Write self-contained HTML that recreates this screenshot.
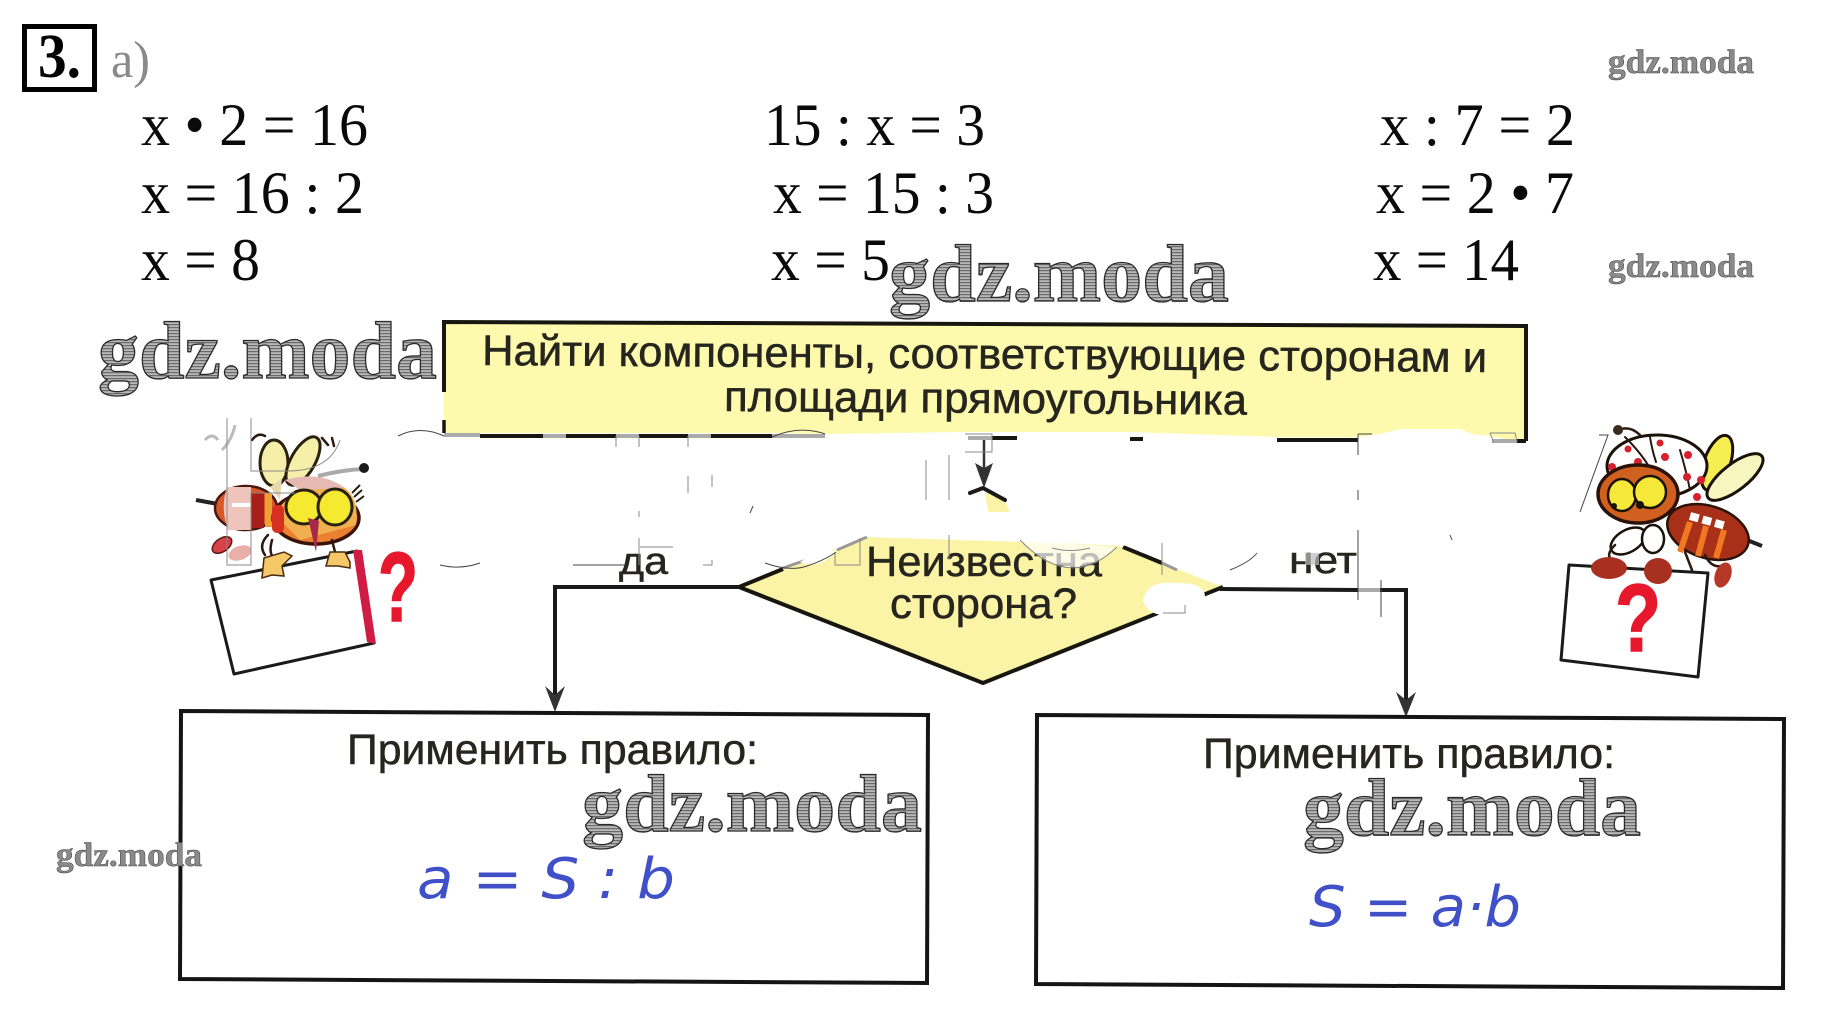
<!DOCTYPE html>
<html lang="ru">
<head>
<meta charset="utf-8">
<title>3. a)</title>
<style>
html,body{margin:0;padding:0;background:#fff;width:1821px;height:1035px;overflow:hidden}
svg{display:block}
.m{font-family:"Liberation Serif",serif;font-size:60px;fill:#0a0a0a}
.s{font-family:"Liberation Sans",sans-serif;font-size:43px;fill:#26261f;stroke:#26261f;stroke-width:.5}
.w{font-family:"Liberation Serif",serif;font-weight:bold;font-size:82px;fill:url(#h);stroke:#2a2a2a;stroke-width:1.3}
.ws{font-family:"Liberation Serif",serif;font-weight:bold;font-size:34px;fill:#8a8a8a;stroke:#444;stroke-width:.5}
.f{font-family:"DejaVu Sans",sans-serif;font-style:oblique;font-size:56px;fill:#3f50c8}
.a{fill:none;stroke:#888;stroke-width:1}
.n{fill:none;stroke:#444;stroke-width:1}
.k{fill:none;stroke:#1a1a1a;stroke-width:3;stroke-linecap:round;stroke-linejoin:round}
.t{fill:none;stroke:#2a1a10;stroke-width:2.5;stroke-linecap:round;stroke-linejoin:round}
</style>
</head>
<body>
<svg xmlns="http://www.w3.org/2000/svg" width="1821" height="1035" viewBox="0 0 1821 1035">
<defs>
<pattern id="h" width="4" height="3" patternUnits="userSpaceOnUse">
<rect width="4" height="3" fill="#b8b8b8"/><rect width="4" height="1.2" fill="#6a6a6a"/>
</pattern>
</defs>
<rect width="1821" height="1035" fill="#fff"/>

<!-- header -->
<rect x="24.5" y="26.5" width="70" height="63" fill="none" stroke="#000" stroke-width="5"/>
<text x="38" y="77" font-family="Liberation Serif,serif" font-weight="bold" font-size="62" textLength="43" lengthAdjust="spacingAndGlyphs">3.</text>
<text x="111" y="77" font-family="Liberation Serif,serif" font-size="52" fill="#8a8a8a" textLength="39" lengthAdjust="spacingAndGlyphs">a)</text>

<!-- equations -->
<text class="m" x="141" y="145" textLength="227" lengthAdjust="spacingAndGlyphs">x • 2 = 16</text>
<text class="m" x="141" y="213" textLength="223" lengthAdjust="spacingAndGlyphs">x = 16 : 2</text>
<text class="m" x="141" y="280" textLength="119" lengthAdjust="spacingAndGlyphs">x = 8</text>
<text class="m" x="764" y="145" textLength="221" lengthAdjust="spacingAndGlyphs">15 : x = 3</text>
<text class="m" x="773" y="213" textLength="221" lengthAdjust="spacingAndGlyphs">x = 15 : 3</text>
<text class="m" x="771" y="280" textLength="119" lengthAdjust="spacingAndGlyphs">x = 5</text>
<text class="m" x="1380" y="145" textLength="195" lengthAdjust="spacingAndGlyphs">x : 7 = 2</text>
<text class="m" x="1376" y="213" textLength="198" lengthAdjust="spacingAndGlyphs">x = 2 • 7</text>
<text class="m" x="1373" y="280" textLength="146" lengthAdjust="spacingAndGlyphs">x = 14</text>

<!-- top box -->
<polygon points="444,322 1526,326 1526,441 444,437" fill="#fdfaae"/>
<!-- white bites along the yellow bottom -->
<path d="M440,436 L460,433 L772,433 L830,434 L960,432 L1130,432 L1277,437 L1358,437 L1380,434 L1400,429 L1460,429 L1472,434 L1490,436 L1515,441 L1530,445 L1530,460 L440,460 Z" fill="#fff"/>
<path d="M444,392 V322 L1526,326 V441" fill="none" stroke="#17170f" stroke-width="4"/>
<path d="M444,420 V433" stroke="#17170f" stroke-width="3.500"/>
<path d="M480,436 H543 M566,436 H616 M639,436 H688 M711,436 H772 M992,438 H1017 M1130,439 H1143 M1277,440 H1358 M1517,441 H1526" stroke="#17170f" stroke-width="4" fill="none"/>
<path d="M444,435 H480 M543,436 H566 M616,436 H639 M688,436 H711 M772,436 H825 M968,438 H992 M1492,441 H1517" stroke="#aaa" stroke-width="4" fill="none"/>
<text class="s" transform="rotate(.4 482 365)" x="482" y="365" textLength="1005" lengthAdjust="spacingAndGlyphs">Найти компоненты, соответствующие сторонам и</text>
<text class="s" transform="rotate(.4 724 411)" x="724" y="411" textLength="523" lengthAdjust="spacingAndGlyphs">площади прямоугольника</text>

<!-- decision -->
<polygon points="739,587 867,537 1117,545 1223,587 983,683" fill="#fbf4a6"/>
<path d="M783,569 L739,587 L983,683 L1223,587" fill="none" stroke="#17170f" stroke-width="4" stroke-linejoin="round"/>
<path d="M783,568 L815,557 M837,550 L867,537 M1162,563 L1177,570" stroke="#999" stroke-width="3" fill="none"/>
<path d="M1123,547 L1162,563" stroke="#17170f" stroke-width="4"/>
<text class="s" x="866" y="576" textLength="236" lengthAdjust="spacingAndGlyphs">Неизвестна</text>
<text class="s" x="890" y="618" textLength="187" lengthAdjust="spacingAndGlyphs">сторона?</text>

<!-- white erasure -->
<path d="M640,460 H1500 V520 L1190,530 L1123,546 L1020,541 L880,534 L867,536 L800,548 L660,548 Z" fill="#fff"/>
<path d="M1020,540 Q1070,590 1117,547 Z" fill="#fff" opacity=".7"/>
<path d="M1020,540 Q1070,592 1117,547 M1052,548 Q1070,553 1090,548" class="a"/>
<path d="M800,562 Q820,570 837,551 L815,552 Z" fill="#fff"/>
<path d="M1143,600 Q1148,580 1175,583 Q1205,582 1205,597 Q1200,615 1175,615 Q1148,618 1143,600 Z" fill="#fff"/>
<polygon points="985,492 1005,501 1010,512 988,512" fill="#fbf4a6"/>
<path d="M970,493 L983,488 L1005,500" class="k" style="stroke-width:4"/>

<!-- arrow -->
<path d="M984,440 V470" stroke="#333" stroke-width="2.500"/>
<polygon points="975,463 984,468 993,463 984,488" fill="#333"/>

<!-- connectors -->
<path d="M739,587 H555 V695" fill="none" stroke="#1a1a1a" stroke-width="4"/>
<polygon points="545,686 555,695 565,686 555,712" fill="#333"/>
<path d="M1220,589 L1358,590 M1380,590 H1406 V700" fill="none" stroke="#1a1a1a" stroke-width="4"/>
<path d="M1358,590 H1380" stroke="#aaa" stroke-width="4"/>
<polygon points="1396,692 1406,700 1416,692 1406,717" fill="#333"/>
<text class="s" x="619" y="574" style="font-size:38px" textLength="49" lengthAdjust="spacingAndGlyphs">да</text>
<text class="s" x="1289" y="573" style="font-size:38px" textLength="68" lengthAdjust="spacingAndGlyphs">нет</text>
<rect x="1305" y="553" width="14" height="12" fill="#bbb" opacity=".7"/>

<!-- bottom boxes -->
<polygon points="181,711 928,715 927,983 180,979" fill="#fff" stroke="#151515" stroke-width="4"/>
<text class="s" x="347" y="764" textLength="411" lengthAdjust="spacingAndGlyphs">Применить правило:</text>
<text class="f" x="417" y="898" textLength="258" lengthAdjust="spacingAndGlyphs">a = S : b</text>
<polygon points="1037,715 1784,719 1783,988 1036,984" fill="#fff" stroke="#151515" stroke-width="4"/>
<text class="s" x="1203" y="768" textLength="412" lengthAdjust="spacingAndGlyphs">Применить правило:</text>
<text class="f" x="1309" y="926" textLength="212" lengthAdjust="spacingAndGlyphs">S = a·b</text>

<!-- left bee -->
<g>
<path d="M196,500 L218,504" stroke="#222" stroke-width="4"/>
<ellipse cx="246" cy="508" rx="31" ry="22" fill="#d8582a" stroke="#4a1810" stroke-width="2.500"/>
<path d="M227,487 Q220,508 228,530 H251 V487 Z" fill="#eec4bc"/>
<path d="M232,505 H251" stroke="#fff" stroke-width="4"/>
<rect x="251" y="493" width="13" height="35" fill="#a81e18"/>
<rect x="265" y="493" width="7" height="34" fill="#f0a030"/>
<path d="M222,450 Q232,440 235,425 M205,440 Q212,432 218,440" fill="none" stroke="#bbb" stroke-width="3"/>
<path d="M252,440 Q258,432 265,436 M322,438 L328,445 M332,438 L334,446" class="t"/>
<ellipse cx="274" cy="463" rx="14" ry="23" fill="#f5efaa" stroke="#2a2010" stroke-width="3"/>
<ellipse cx="303" cy="461" rx="12" ry="27" transform="rotate(30 303 461)" fill="#f5efaa" stroke="#2a2010" stroke-width="3"/>
<path d="M270,487 L282,478 L280,500 Z" fill="#e8d8b0"/>
<ellipse cx="316" cy="518" rx="43" ry="26" fill="#ea8030" stroke="#3a1208" stroke-width="3.500"/>
<path d="M275,515 Q285,498 300,488 L340,485 Q360,495 356,525 L300,540 Z" fill="#f0b050"/>
<path d="M285,480 Q320,470 345,488 L300,490 Z" fill="#e6bab2"/>
<rect x="272" y="505" width="12" height="28" fill="#d83020" rx="5"/>
<ellipse cx="304" cy="507" rx="18" ry="17" fill="#f6ea30" stroke="#2a2010" stroke-width="3"/>
<ellipse cx="335" cy="507" rx="17" ry="18" fill="#f6ea30" stroke="#2a2010" stroke-width="3"/>
<polygon points="308,518 319,521 316,552" fill="#a82848"/>
<path d="M352,493 L360,485 M354,497 L362,490 M356,502 L364,496" stroke="#2a2010" stroke-width="2"/>
<path d="M318,476 Q342,470 363,469" stroke="#aaa" stroke-width="4" fill="none"/>
<circle cx="364" cy="468" r="5" fill="#1a1a1a"/>
<ellipse cx="222" cy="545" rx="11" ry="6.500" transform="rotate(-35 222 545)" fill="#d8404a" stroke="#5a1a10" stroke-width="1.500"/>
<ellipse cx="240" cy="553" rx="12" ry="7" transform="rotate(-20 240 553)" fill="#e8b0a8"/>
<path d="M268,535 Q258,545 265,555 M272,540 Q268,555 275,558 M332,540 L335,552" class="t"/>
<polygon points="211,580 355,551 373,643 234,674" fill="#fff"/>
<path d="M211,580 L357,551 M374,643 L234,674 L211,580" class="k"/>
<polygon points="353,550 362,550 376,644 367,642" fill="#d01c44"/>
<path d="M264,558 L284,552 L292,556 L282,566 L284,576 L272,575 L262,578 Z" fill="#f5c868" stroke="#4a2a10" stroke-width="1.500"/>
<path d="M330,552 L345,552 L350,562 L350,568 L338,566 L326,566 Z" fill="#f5c868" stroke="#4a2a10" stroke-width="1.500"/>
<text x="378" y="621" font-family="Liberation Sans,sans-serif" font-weight="bold" font-size="98" fill="#e8182c" stroke="#e8182c" stroke-width="1.500" textLength="40" lengthAdjust="spacingAndGlyphs">?</text>
</g>

<!-- right bee -->
<g>
<path d="M1747,540 L1762,546" stroke="#222" stroke-width="4"/>
<ellipse cx="1708" cy="532" rx="42" ry="26" transform="rotate(18 1708 532)" fill="#a83018" stroke="#2a1208" stroke-width="2.500"/>
<path d="M1690,522 L1680,552 M1706,526 L1698,556 M1724,530 L1716,558" stroke="#f07820" stroke-width="6" fill="none"/>
<path d="M1690,516 L1726,526" stroke="#fff" stroke-width="8" stroke-dasharray="9 4"/>
<ellipse cx="1717" cy="463" rx="13" ry="29" transform="rotate(20 1717 463)" fill="#f6ee50" stroke="#1a1208" stroke-width="3"/>
<ellipse cx="1735" cy="477" rx="13" ry="34" transform="rotate(52 1735 477)" fill="#f8f6c0" stroke="#1a1208" stroke-width="3"/>
<ellipse cx="1657" cy="466" rx="50" ry="31" fill="#fff" stroke="#1a1208" stroke-width="3"/>
<path d="M1625,437 Q1640,452 1648,465 M1650,437 Q1652,450 1656,462 M1680,450 Q1686,470 1690,490" class="t" style="stroke-width:2"/>
<g fill="#d8202c">
<circle cx="1660" cy="443" r="3.500"/><circle cx="1628" cy="449" r="3.500"/><circle cx="1665" cy="457" r="4"/><circle cx="1638" cy="462" r="4"/><circle cx="1688" cy="455" r="4"/><circle cx="1612" cy="467" r="4"/><circle cx="1687" cy="477" r="4"/><circle cx="1701" cy="480" r="4"/><circle cx="1697" cy="497" r="4"/>
</g>
<ellipse cx="1638" cy="494" rx="40" ry="29" fill="#d06020" stroke="#2a1208" stroke-width="3.500"/>
<ellipse cx="1622" cy="495" rx="14" ry="16" fill="#f6e838" stroke="#1a1208" stroke-width="2.500"/>
<ellipse cx="1650" cy="492" rx="16" ry="16" fill="#f6e838" stroke="#1a1208" stroke-width="2.500"/>
<circle cx="1614" cy="506" r="3" fill="#1a1208"/><circle cx="1640" cy="505" r="4" fill="#1a1208"/>
<ellipse cx="1628" cy="541" rx="19" ry="11" transform="rotate(-30 1628 541)" fill="#fff" stroke="#1a1208" stroke-width="2.500"/>
<ellipse cx="1653" cy="539" rx="11" ry="14" fill="#fff" stroke="#1a1208" stroke-width="2.500"/>
<path d="M1615,545 Q1605,555 1612,560 M1685,552 L1692,570 M1705,555 Q1712,570 1725,565" class="t"/>
<path d="M1618,430 Q1630,425 1640,435" class="t"/>
<circle cx="1618" cy="430" r="5" fill="#3a2a20"/>
<polygon points="1569,565 1708,573 1698,677 1561,660" fill="#fff" stroke="#1a1a1a" stroke-width="3" stroke-linejoin="round"/>
<ellipse cx="1609" cy="568" rx="18" ry="11" fill="#a83020"/>
<ellipse cx="1658" cy="571" rx="14" ry="13" fill="#a83020"/>
<ellipse cx="1723" cy="575" rx="8" ry="13" transform="rotate(20 1723 575)" fill="#b83828"/>
<text x="1615" y="651" font-family="Liberation Sans,sans-serif" font-weight="bold" font-size="96" fill="#e8182c" stroke="#e8182c" stroke-width="1.500" textLength="46" lengthAdjust="spacingAndGlyphs">?</text>
</g>

<!-- artefact hairlines -->
<path class="a" d="M227,418 V565 H251 V493 H295 M251,418 V471 H290 Q330,470 340,440"/>
<path class="n" d="M1580,512 L1608,435 H1599"/>
<path class="a" d="M616,436 V447 M639,436 V447 M688,436 V447 M688,476 V493 M712,475 V487 M639,511 V517 M639,538 V565 M640,547 H673 M703,565 H712 V560"/>
<path class="n" d="M573,565 H625 M750,513 L753,506 M1358,434 V455 M1358,490 V500 M1358,530 V600 M1381,580 V617 M1358,434 H1372"/>
<path class="a" d="M926,460 V500 M949,455 V500 M949,535 V560 M1162,543 V575 M1490,433 H1515 L1517,441 M1490,433 L1494,443"/>
<path class="a" d="M965,434 H992 V452 H965 M835,553 V565 H860 V538"/>
<path class="a" d="M1163,613 H1185 V605"/>
<path class="n" d="M440,565 Q460,570 480,563 M765,563 Q790,572 807,566 Q825,560 836,552 M1230,570 Q1250,562 1257,553 M1450,535 L1452,540"/>
<path class="n" d="M772,437 Q800,425 825,434 M398,436 Q420,425 444,436"/>

<!-- watermarks -->
<text class="w" x="98" y="378" textLength="339" lengthAdjust="spacingAndGlyphs">gdz.moda</text>
<text class="w" x="889" y="301" textLength="340" lengthAdjust="spacingAndGlyphs">gdz.moda</text>
<text class="w" x="582" y="831" textLength="340" lengthAdjust="spacingAndGlyphs">gdz.moda</text>
<text class="w" x="1303" y="835" textLength="338" lengthAdjust="spacingAndGlyphs">gdz.moda</text>
<text class="ws" x="1608" y="73" textLength="146" lengthAdjust="spacingAndGlyphs">gdz.moda</text>
<text class="ws" x="1608" y="277" textLength="146" lengthAdjust="spacingAndGlyphs">gdz.moda</text>
<text class="ws" x="56" y="866" textLength="146" lengthAdjust="spacingAndGlyphs">gdz.moda</text>
</svg>
</body>
</html>
